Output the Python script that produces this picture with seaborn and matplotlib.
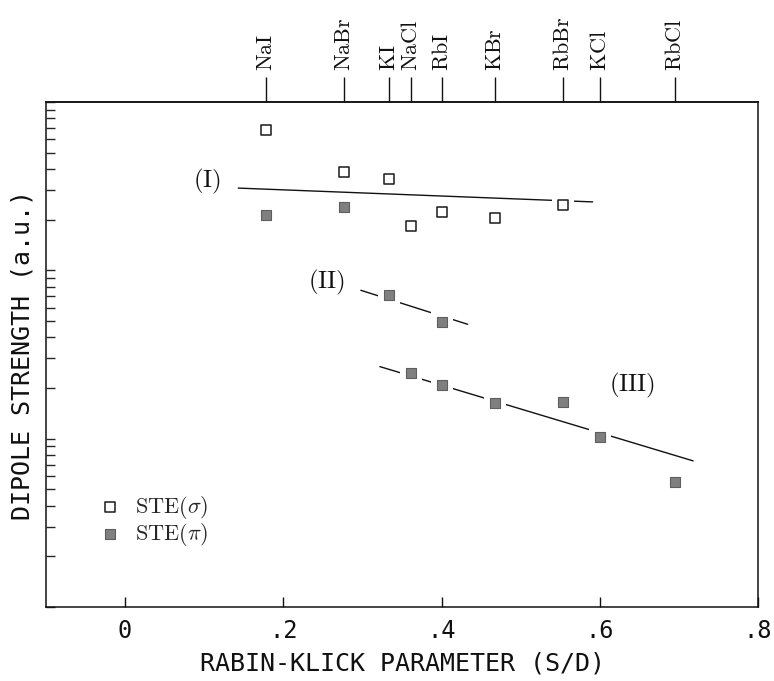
import numpy as np
import pandas as pd
import matplotlib
matplotlib.use("Agg")
import matplotlib.pyplot as plt
from matplotlib.ticker import LogLocator, NullFormatter
import seaborn as sns

# ---------------- data ----------------
materials = ['NaI', 'NaBr', 'KI', 'NaCl', 'RbI', 'KBr', 'RbBr', 'KCl', 'RbCl']
rk_param = [0.178, 0.277, 0.333, 0.362, 0.400, 0.467, 0.554, 0.600, 0.695]

sigma_materials = ['NaI', 'NaBr', 'KI', 'NaCl', 'RbI', 'KBr', 'RbBr']
sigma_strength = [682, 382, 349, 183, 221, 205, 246]

pi_materials = ['NaI', 'NaBr', 'KI', 'RbI', 'NaCl', 'RbI', 'KBr', 'RbBr', 'KCl', 'RbCl']
pi_strength = [214, 238, 71.5, 49.4, 24.6, 20.9, 16.3, 16.5, 10.3, 5.55]

fit_labels = ['I', 'II', 'III']
fit_x_start = [0.143, 0.298, 0.322]
fit_x_end = [0.591, 0.433, 0.718]
fit_y_start = [308, 76.1, 26.8]
fit_y_end = [255, 47.8, 7.38]
fit_label_x = [0.103, 0.254, 0.641]
fit_label_y = [337, 84.5, 20.7]

x_ticks = [0, 0.2, 0.4, 0.6, 0.8]
x_ticklabels = ['0', '.2', '.4', '.6', '.8']

# ---------------- style ----------------
sns.set_style('ticks')
plt.rcParams['mathtext.fontset'] = 'cm'
plt.rcParams['font.family'] = ['DejaVu Sans Mono', 'DejaVu Sans']
plt.rcParams['axes.edgecolor'] = '#111111'
plt.rcParams['axes.linewidth'] = 1.1

fig = plt.figure(figsize=(7.74, 6.81), dpi=100)
ax = fig.add_axes([46 / 774, 74 / 681, 712 / 774, 505 / 681])
ax.set_yscale('log')

rk = dict(zip(materials, rk_param))
df_sigma = pd.DataFrame({'material': sigma_materials,
                         'rk': [rk[m] for m in sigma_materials],
                         'strength': sigma_strength})
df_pi = pd.DataFrame({'material': pi_materials,
                      'rk': [rk[m] for m in pi_materials],
                      'strength': pi_strength})
df_all = pd.concat([df_sigma, df_pi], ignore_index=True)

# fitted lines
for i in range(len(fit_labels)):
    fit_df = pd.DataFrame({'rk': [fit_x_start[i], fit_x_end[i]],
                           'strength': [fit_y_start[i], fit_y_end[i]]})
    sns.lineplot(data=fit_df, x='rk', y='strength', color='#111111',
                 linewidth=1.0, ax=ax, zorder=1, legend=False)
    ax.text(fit_label_x[i], fit_label_y[i], r'$(\mathrm{%s})$' % fit_labels[i],
            fontsize=18, ha='center', va='center', color='#111111')

# white halos that break the lines around the markers
sns.scatterplot(data=df_all, x='rk', y='strength', marker='s', s=16 ** 2,
                color='white', linewidth=0, ax=ax, zorder=2, legend=False)

sns.scatterplot(data=df_sigma, x='rk', y='strength', marker='s', s=52,
                color='white', edgecolor='#1a1a1a', linewidth=1.1, ax=ax,
                zorder=3, label=r'$\mathrm{STE}(\sigma)$')
sns.scatterplot(data=df_pi, x='rk', y='strength', marker='s', s=52,
                color='#7f7f7f', edgecolor='#5e5e5e', linewidth=0.8, ax=ax,
                zorder=3, label=r'$\mathrm{STE}(\pi)$')

# axes limits / ticks
ax.set_xlim(-0.1, 0.8)
ax.set_ylim(1, 1000)
ax.set_xticks(x_ticks, labels=x_ticklabels)
ax.tick_params(axis='x', which='both', direction='in', length=7, width=1.0,
               pad=9, labelsize=17, top=False, colors='#111111')
ax.yaxis.set_major_locator(LogLocator(base=10))
ax.yaxis.set_minor_locator(LogLocator(base=10, subs=range(2, 10)))
ax.yaxis.set_major_formatter(NullFormatter())
ax.yaxis.set_minor_formatter(NullFormatter())
ax.tick_params(axis='y', which='both', direction='in', length=6.5, width=1.0,
               labelleft=False, right=False)

ax.set_xlabel('RABIN-KLICK PARAMETER (S/D)', fontsize=18, labelpad=6, color='#111111')
ax.set_ylabel('DIPOLE STRENGTH (a.u.)', fontsize=18, labelpad=8, color='#111111')

# material axis on top
sec = ax.secondary_xaxis('top')
sec.set_xticks(rk_param, labels=[r'$\mathrm{%s}$' % m for m in materials])
sec.tick_params(direction='out', length=18, width=1.0, pad=4, labelsize=16,
                labelrotation=90, colors='#111111')
sec.spines['top'].set_linewidth(1.1)

leg = ax.legend(loc='center left', bbox_to_anchor=(0.0755, 0.170), frameon=False,
                fontsize=16, handlelength=0.95, handletextpad=0.65,
                borderpad=0, borderaxespad=0, labelspacing=0.0)

fig.savefig('out.png', dpi=100)
